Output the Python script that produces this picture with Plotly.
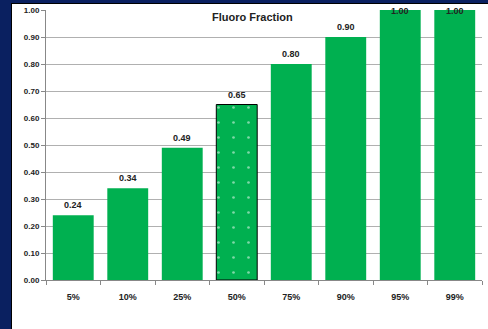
import plotly.graph_objects as go

categories = ["5%", "10%", "25%", "50%", "75%", "90%", "95%", "99%"]
values = [0.24, 0.34, 0.49, 0.65, 0.80, 0.90, 1.00, 1.00]
highlight = "50%"
title_text = "Fluoro Fraction"

GREEN = "#00B050"
NAVY = "#0a2060"

W, H = 488, 329
ml, mr, mt, mb = 46, 6, 10, 49
pw, ph = W - ml - mr, H - mt - mb

def px_to_paper_x(px):
    return (px - ml) / pw

def px_to_paper_y(py):
    return (H - mb - py) / ph

line_colors = ["black" if c == highlight else GREEN for c in categories]
line_widths = [1 if c == highlight else 0 for c in categories]

fig = go.Figure(go.Bar(
    x=categories, y=values,
    marker=dict(color=GREEN, pattern=dict(
        shape=["." if c == highlight else "" for c in categories],
        fgcolor="white", bgcolor=GREEN, size=15, solidity=0.025),
        line=dict(color=line_colors, width=line_widths)),
    width=0.75,
))

annotations = []
for c, v in zip(categories, values):
    if v >= 0.99:
        annotations.append(dict(x=c, y=v, text=f"<b>{v:.2f}</b>", showarrow=False,
                                yanchor="middle", yshift=-1, font=dict(size=9, color="#222")))
    else:
        annotations.append(dict(x=c, y=v, text=f"<b>{v:.2f}</b>", showarrow=False,
                                yanchor="middle", yshift=10, font=dict(size=9, color="#222")))

annotations.append(dict(x=0.473, y=px_to_paper_y(17), xref="paper", yref="paper",
                        text=f"<b>{title_text}</b>", showarrow=False,
                        font=dict(size=11, color="#222"), xanchor="center", yanchor="middle"))

fig.update_layout(
    width=W, height=H,
    margin=dict(l=ml, r=mr, t=mt, b=mb),
    paper_bgcolor="white", plot_bgcolor="white",
    font=dict(family="Liberation Sans, Arial, sans-serif", size=9, color="#222"),
    showlegend=False,
    annotations=annotations,
    shapes=[
        dict(type="rect", xref="paper", yref="paper", layer="above",
             x0=px_to_paper_x(0), x1=px_to_paper_x(11),
             y0=px_to_paper_y(329), y1=px_to_paper_y(0),
             fillcolor=NAVY, line=dict(width=0)),
        dict(type="rect", xref="paper", yref="paper", layer="above",
             x0=px_to_paper_x(0), x1=px_to_paper_x(488),
             y0=px_to_paper_y(3), y1=px_to_paper_y(0),
             fillcolor=NAVY, line=dict(width=0)),
        dict(type="line", xref="paper", yref="paper", layer="above",
             x0=px_to_paper_x(11.5), x1=px_to_paper_x(11.5),
             y0=px_to_paper_y(329), y1=px_to_paper_y(3),
             line=dict(color="black", width=1)),
        dict(type="line", xref="paper", yref="paper", layer="above",
             x0=px_to_paper_x(11), x1=px_to_paper_x(488),
             y0=px_to_paper_y(3.5), y1=px_to_paper_y(3.5),
             line=dict(color="black", width=1)),
    ],
    bargap=0.25,
)
fig.update_xaxes(
    type="category", tickson="boundaries", ticks="outside", ticklen=4,
    tickcolor="#888", showline=True, linecolor="#888", linewidth=1,
    tickfont=dict(size=9, color="#222"), ticklabelstandoff=8,
    tickprefix="<b>", ticksuffix="</b>", range=[-0.5, 7.5],
)
fig.update_yaxes(
    range=[0, 1], dtick=0.1, tickformat=".2f", showgrid=True, gridcolor="#b0b0b0",
    gridwidth=1, showline=True, linecolor="#888", ticks="outside", ticklen=4,
    tickcolor="#888", tickfont=dict(size=8, color="#222"),
    tickprefix="<b>", ticksuffix="</b>", zeroline=False,
)

fig.write_html("out.html", config={"responsive": False})
